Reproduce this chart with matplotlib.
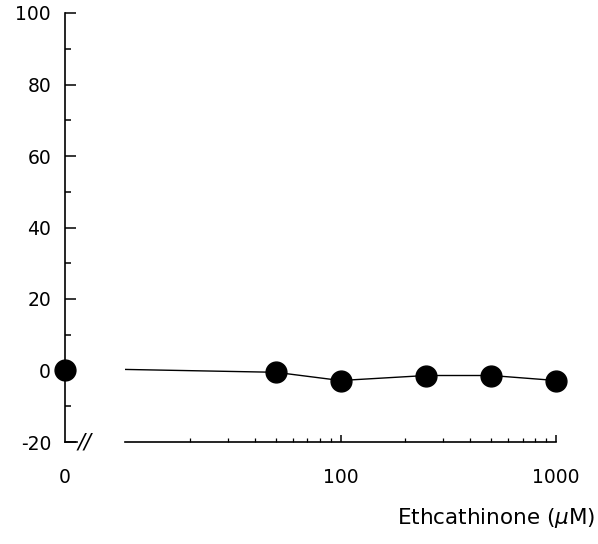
import matplotlib
matplotlib.use("Agg")
import matplotlib.pyplot as plt
import numpy as np

plt.rcParams['font.family'] = ['DejaVu Sans']
plt.rcParams['axes.unicode_minus'] = False

# Dados
control_x = [0]
control_y = [0.2]
conc = [10, 50, 100, 250, 500, 1000]       # primeiro ponto: só a linha, sem marcador
resp = [0.3, -0.5, -2.8, -1.4, -1.4, -2.8]
y_ticks = [-20, 0, 20, 40, 60, 80, 100]
x_ticks = [100, 1000]
x_ticklabels = ["100", "1000"]

fig = plt.figure(figsize=(5.98, 5.44), dpi=100)

bottom, height = (544 - 442) / 544, (442 - 13) / 544
ax0 = fig.add_axes([65 / 598, bottom, 12 / 598, height])
ax1 = fig.add_axes([125 / 598, bottom, 431 / 598, height], sharey=ax0)

# Eixo da esquerda (controle em 0)
ax0.plot(control_x, control_y, 'o', color='black', markersize=15, clip_on=False, zorder=5)
ax0.set_xlim(0, 1)
ax0.set_ylim(-20, 100)
ax0.set_yticks(y_ticks)
ax0.set_yticks(np.arange(-10, 100, 20), minor=True)
ax0.set_xticks([0])
ax0.set_xticklabels(["0"])
ax0.tick_params(axis='y', which='major', direction='in', length=8, width=1.1, pad=10, labelsize=13.5)
ax0.tick_params(axis='y', which='minor', direction='in', length=4.3, width=1.1)
ax0.tick_params(axis='x', length=0, pad=19, labelsize=13.5)
for s in ['top', 'right']:
    ax0.spines[s].set_visible(False)
for s in ['left', 'bottom']:
    ax0.spines[s].set_linewidth(1.2)
ax0.patch.set_alpha(0)

# marca de quebra do eixo
fig.text(85 / 598, 1 - 442 / 544, "//", fontsize=15, style='italic', ha='center', va='center')

# Eixo da direita (escala log)
ax1.plot(conc, resp, '-', color='black', linewidth=1.0, zorder=3)
ax1.plot(conc[1:], resp[1:], 'o', color='black', markersize=15, clip_on=False, zorder=5)
ax1.set_xscale('log')
ax1.set_xlim(10, 1000)
ax1.set_xticks(x_ticks)
ax1.set_xticklabels(x_ticklabels)
ax1.tick_params(axis='x', which='major', direction='in', length=5, width=1.1, pad=19, labelsize=13.5)
ax1.tick_params(axis='x', which='minor', direction='in', length=3, width=0.9)
ax1.tick_params(axis='y', left=False, labelleft=False, which='both')
for s in ['top', 'right', 'left']:
    ax1.spines[s].set_visible(False)
ax1.spines['bottom'].set_linewidth(1.2)
ax1.patch.set_alpha(0)

fig.text(595 / 598, 1 - 518 / 544, "Ethcathinone ($\\mu$M)", ha='right', va='center', fontsize=15.5)

fig.savefig("out.png", dpi=100)
